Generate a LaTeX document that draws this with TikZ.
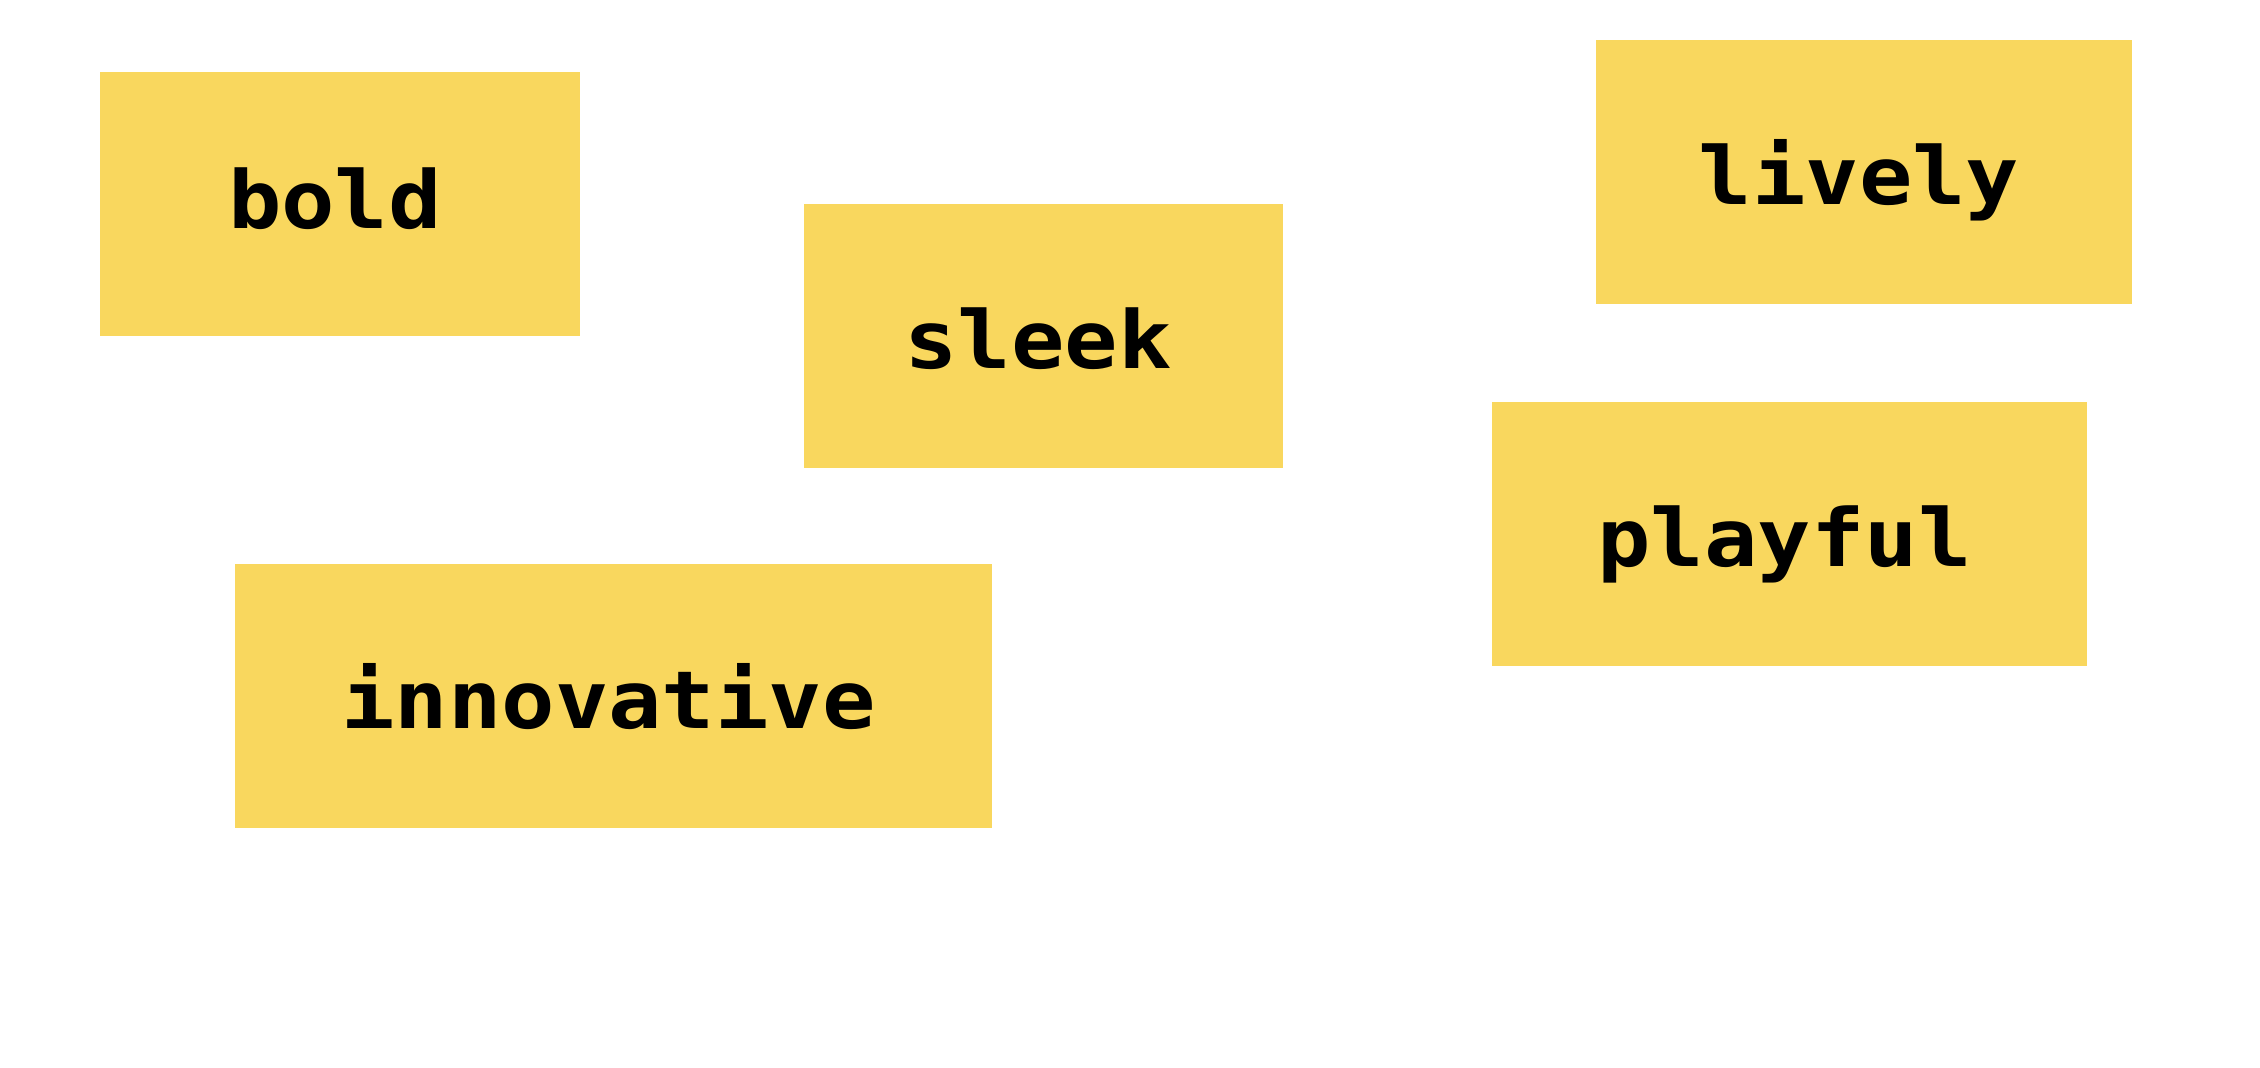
\documentclass[tikz,border=0pt]{standalone}
\usepackage{fontspec}
\setmonofont[FakeStretch=1.11]{DejaVu Sans Mono}
\definecolor{word area}{RGB}{249,215,94}
\colorlet{word text}{black}
\tikzset{word/.style={fill=word area, text=word text, inner sep=0pt,
    minimum height=2.645cm, text height=0.64cm, text depth=0cm,
    execute at end node=\kern0.1cm,
    font=\ttfamily\bfseries\fontsize{22.76pt}{24pt}\selectfont}}

\begin{document}
\begin{tikzpicture}

    \useasboundingbox (0,0) rectangle (22.6,-10.68);

    \node[word, minimum width=4.80cm, text depth=0.16cm] (bold) at (3.40,-2.04) {bold};
    \node[word, minimum width=4.79cm] (sleek) at (10.43,-3.36) {sleek};
    \node[word, minimum width=5.36cm] (lively) at (18.64,-1.72) {lively};
    \node[word, minimum width=5.95cm] (playful) at (17.895,-5.34) {playful};
    \node[word, minimum width=7.57cm] (innovative) at (6.135,-6.96) {innovative};

\end{tikzpicture}
\end{document}
